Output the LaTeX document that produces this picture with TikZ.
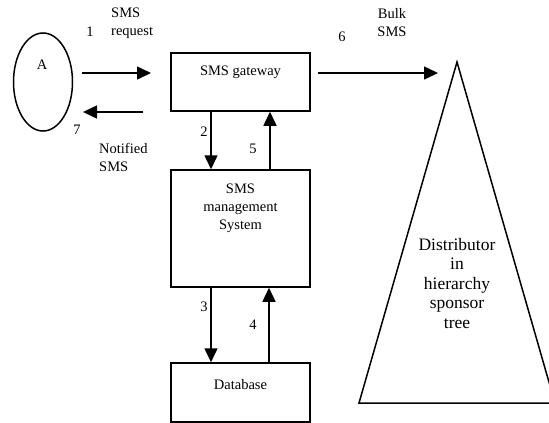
\documentclass[tikz,border=0pt]{standalone}
\usepackage{fontspec}
\setmainfont{Liberation Serif}
\usetikzlibrary{arrows.meta,shapes.geometric}

\begin{document}
\begin{tikzpicture}[
  x=1pt, y=-1pt,
  font=\fontsize{14.5}{18}\selectfont,
  box/.style={draw, line width=1.5pt, inner sep=0pt, minimum width=139pt},
  arr/.style={-{Triangle[length=14pt,width=13pt]}, line width=1.5pt},
  lbl/.style={inner sep=0pt, align=left}
]
\useasboundingbox (0,0) rectangle (549,423);

% actor
\node[draw, ellipse, line width=1.5pt, minimum width=59pt, minimum height=98pt] (a) at (43,82) {};
\node[inner sep=0pt] (aname) at (42,65) {A};

% boxes
\node[box, minimum height=58pt] (gw) at (240.5,82) {};
\node[inner sep=0pt] (gwtxt) at (240.5,72) {SMS gateway};
\node[box, minimum height=117pt] (mgmt) at (240.5,228.5) {};
\node[inner sep=0pt, align=center] (mgmttxt) at (240.5,208) {SMS\\management\\System};
\node[box, minimum height=59pt] (db) at (240.5,392.5) {};
\node[inner sep=0pt] (dbtxt) at (240.5,385) {Database};

% sponsor tree
\draw[line width=1.5pt] (457,62) -- (359,403) -- (555,403) -- cycle;
\node[inner sep=0pt, align=center, font=\fontsize{17.5}{19.5}\selectfont] (tree) at (457,283.5)
  {Distributor\\in\\hierarchy\\sponsor\\tree};

% free arrow ends
\coordinate (reqS) at (82,73);
\coordinate (reqE) at (151,73);
\coordinate (notS) at (143,112);
\coordinate (notE) at (83,112);
\coordinate (bulkS) at (318,73);
\coordinate (bulkE) at (438,73);

\draw[arr] (reqS) -- (reqE);
\draw[arr] (notS) -- (notE);
\draw[arr] (bulkS) -- (bulkE);
\draw[arr] (gw.south -| 211,0) -- (mgmt.north -| 211,0);
\draw[arr] (mgmt.north -| 270,0) -- (gw.south -| 270,0);
\draw[arr] (mgmt.south -| 211,0) -- (db.north -| 211,0);
\draw[arr] (db.north -| 269,0) -- (mgmt.south -| 269,0);

% labels
\node[lbl] (n1) at (90,32) {1};
\node[lbl, anchor=west] (reqtxt) at (111,23) {SMS\\request};
\node[lbl] (n7) at (77,130) {7};
\node[lbl, anchor=west] (nottxt) at (99,157.5) {Notified\\SMS};
\node[lbl] (n6) at (342,37) {6};
\node[inner sep=0pt, align=center] (bulktxt) at (392,23) {Bulk\\SMS};
\node[lbl] (n2) at (204,132) {2};
\node[lbl] (n5) at (253,149) {5};
\node[lbl] (n3) at (204,307) {3};
\node[lbl] (n4) at (253,325) {4};

\end{tikzpicture}
\end{document}
